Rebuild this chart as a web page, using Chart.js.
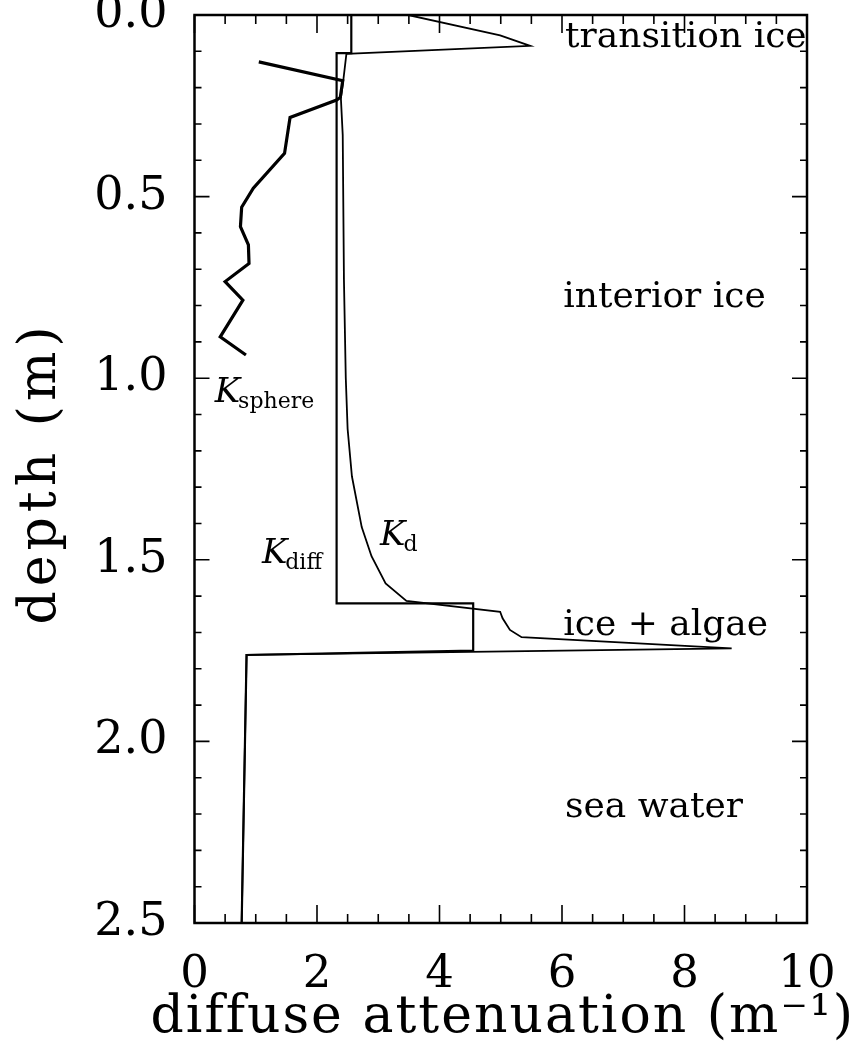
<!DOCTYPE html>
<html>
<head>
<meta charset="utf-8">
<script src="https://cdn.jsdelivr.net/npm/chart.js@4.4.0/dist/chart.umd.min.js"></script>
<style>
    html, body { margin: 0; padding: 0; background: #fff; }
    canvas { display: block; }
</style>
</head>
<body>
<canvas id="profile" width="856" height="1054"></canvas>
<script>
/*============================
DIFFUSE ATTENUATION PROFILE
=============================*/

// K_sphere (thick wiggly line, upper ice)
let sphereK = [1.05, 2.42, 2.38, 2.32, 1.56, 1.47, 0.96, 0.77, 0.75, 0.88, 0.89, 0.50, 0.79, 0.42, 0.84];
let sphereDepth = [0.129, 0.181, 0.227, 0.234, 0.282, 0.381, 0.477, 0.529, 0.583, 0.633, 0.684, 0.734, 0.785, 0.886, 0.936];

// K_d (smooth curve)
let kdK = [3.49, 4.99, 5.48, 2.48, 2.43, 2.39, 2.42, 2.44, 2.47, 2.50, 2.57, 2.73, 2.89, 3.12, 3.46, 4.99, 5.03, 5.15, 5.34, 8.77, 0.85, 0.77];
let kdDepth = [0.0, 0.056, 0.085, 0.107, 0.179, 0.229, 0.33, 0.73, 1.0, 1.14, 1.27, 1.41, 1.49, 1.565, 1.613, 1.643, 1.661, 1.693, 1.713, 1.744, 1.762, 2.5];

// K_diff (step profile, one value per layer)
let diffK = [2.56, 2.56, 2.32, 2.32, 4.55, 4.55, 0.85, 0.77];
let diffDepth = [0.0, 0.105, 0.105, 1.62, 1.62, 1.75, 1.762, 2.5];

// axis ticks
let depthTicks = [0.0, 0.5, 1.0, 1.5, 2.0, 2.5];
let attenTicks = [0, 2, 4, 6, 8, 10];

let layerNames = ['transition ice', 'interior ice', 'ice + algae', 'sea water'];
let xTitle = 'diffuse attenuation (m\u207B\u00B9)';
let yTitle = 'depth (m)';


function toPoints(xs, zs) {
    return xs.map((v, i) => ({ x: v, y: zs[i] }));
}

const SERIF = '"DejaVu Serif", "Liberation Serif", serif';


// box with inward ticks on all four sides
const frame = {
    id: 'frame',
    afterDatasetsDraw(chart) {
        const { ctx, chartArea: a, scales: { x, y } } = chart;
        ctx.save();
        ctx.strokeStyle = '#000';
        ctx.lineWidth = 1.6;
        ctx.beginPath();
        for (let v = 0; v <= 10.001; v += 0.5) {
            let px = x.getPixelForValue(v);
            let len = Math.abs(v % 2) < 0.01 ? 18 : 9;
            ctx.moveTo(px, a.bottom); ctx.lineTo(px, a.bottom - len);
            ctx.moveTo(px, a.top); ctx.lineTo(px, a.top + len);
        }
        for (let k = 0; k <= 25; k++) {
            let py = y.getPixelForValue(k / 10);
            let len = k % 5 === 0 ? 15 : 7;
            ctx.moveTo(a.left, py); ctx.lineTo(a.left + len, py);
            ctx.moveTo(a.right, py); ctx.lineTo(a.right - len, py);
        }
        ctx.stroke();
        ctx.lineWidth = 2.5;
        ctx.strokeRect(a.left, a.top, a.right - a.left, a.bottom - a.top);
        ctx.restore();
    }
};


// axis titles, layer names and curve labels
const notes = {
    id: 'notes',
    afterDraw(chart, args, opts) {
        const { ctx, chartArea: a, scales: { x, y } } = chart;
        ctx.save();
        ctx.fillStyle = '#000';
        ctx.textBaseline = 'alphabetic';

        ctx.font = '52px ' + SERIF;
        ctx.textAlign = 'center';
        ctx.letterSpacing = '2px';
        ctx.fillText(xTitle, (a.left + a.right) / 2 + 2, 1032);
        ctx.letterSpacing = '5px';
        ctx.save();
        ctx.translate(55, (a.top + a.bottom) / 2 + 6);
        ctx.rotate(-Math.PI / 2);
        ctx.fillText(yTitle, 2, 0);
        ctx.restore();

        ctx.letterSpacing = '0px';
        ctx.textAlign = 'left';
        ctx.font = '36px ' + SERIF;
        layerNames.forEach((name, i) => {
            let p = opts.layers[i];
            ctx.fillText(name, x.getPixelForValue(p[0]), y.getPixelForValue(p[1]));
        });
        opts.curves.forEach(c => {
            let px = x.getPixelForValue(c.at[0]);
            let py = y.getPixelForValue(c.at[1]);
            ctx.font = 'italic 34px ' + SERIF;
            ctx.fillText('K', px, py);
            let w = ctx.measureText('K').width;
            ctx.font = '22px ' + SERIF;
            ctx.fillText(c.sub, px + w - 2, py + 6);
        });
        ctx.restore();
    }
};


function lineSet(label, points, width) {
    return {
        label: label,
        data: points,
        showLine: true,
        borderColor: '#000',
        backgroundColor: '#000',
        borderWidth: width,
        pointRadius: 0,
        tension: 0,
        borderJoinStyle: 'miter'
    };
}


function displayProfileChart() {
    let profileCanvas = document.getElementById('profile').getContext('2d');
    let profileChart;
    profileChart = new Chart(profileCanvas, {
        type: 'scatter',
        data: {
            datasets: [
                lineSet('K_sphere', toPoints(sphereK, sphereDepth), 3.2),
                lineSet('K_d', toPoints(kdK, kdDepth), 1.8),
                lineSet('K_diff', toPoints(diffK, diffDepth), 2.2)
            ]
        },
        options: {
            responsive: false,
            animation: false,
            devicePixelRatio: 1,
            layout: {
                padding: { top: 15, right: 49, bottom: 0, left: 0 }
            },
            plugins: {
                legend: { display: false },
                tooltip: { enabled: false },
                notes: {
                    layers: [[6.05, 0.088], [6.02, 0.804], [6.02, 1.707], [6.05, 2.208]],
                    curves: [
                        { sub: 'sphere', at: [0.33, 1.066] },
                        { sub: 'diff', at: [1.10, 1.509] },
                        { sub: 'd', at: [3.03, 1.459] }
                    ]
                }
            },
            scales: {
                x: {
                    type: 'linear',
                    min: 0,
                    max: 10,
                    grid: { display: false },
                    border: { display: false },
                    afterBuildTicks: s => { s.ticks = attenTicks.map(v => ({ value: v })); },
                    afterFit: s => {
                        s.height = 131;
                        s.paddingLeft = 0;
                        s.paddingRight = 0;
                    },
                    ticks: {
                        color: '#000',
                        padding: 22,
                        maxRotation: 0,
                        font: { family: SERIF, size: 45, lineHeight: 1 },
                        callback: v => String(v)
                    }
                },
                y: {
                    type: 'linear',
                    reverse: true,
                    min: 0,
                    max: 2.5,
                    grid: { display: false },
                    border: { display: false },
                    afterBuildTicks: s => { s.ticks = depthTicks.map(v => ({ value: v })); },
                    afterFit: s => {
                        s.width = 194.5;
                        s.paddingTop = 0;
                        s.paddingBottom = 0;
                    },
                    ticks: {
                        color: '#000',
                        padding: 19,
                        font: { family: SERIF, size: 46, lineHeight: 1 },
                        callback: v => v.toFixed(1)
                    }
                }
            }
        },
        plugins: [frame, notes]
    });
}
displayProfileChart();
</script>
</body>
</html>
